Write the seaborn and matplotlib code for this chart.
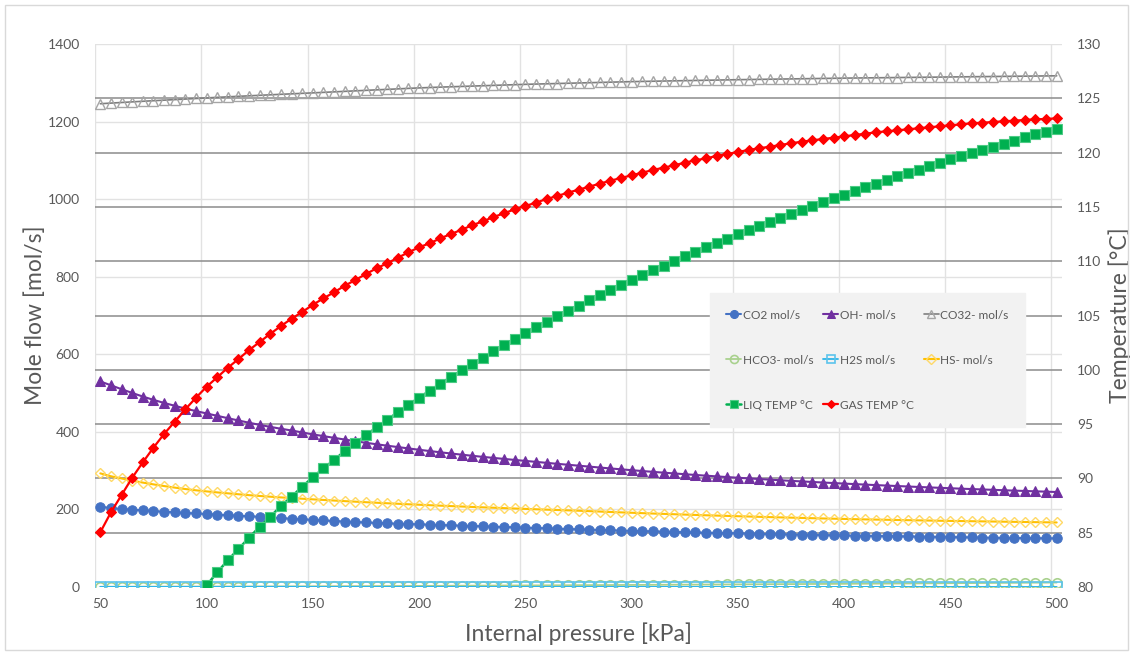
import numpy as np
import pandas as pd
import matplotlib
matplotlib.use("Agg")
import matplotlib.pyplot as plt
import seaborn as sns
from matplotlib.ticker import FixedLocator
from matplotlib.patches import Rectangle

# Internal pressure sweep [kPa]
pressure_kpa = list(range(50, 505, 5))

# Mole flows [mol/s]
co2 = [207.0, 203.7, 201.0, 199.3, 197.7, 196.0, 194.0, 192.6, 190.8, 189.6,
       188.2, 186.6, 185.3, 183.8, 182.4, 181.1, 179.6, 177.6, 176.0, 174.6,
       173.0, 171.5, 170.2, 168.8, 167.6, 166.3, 165.2, 164.2, 163.2, 162.4,
       161.6, 160.7, 159.8, 159.0, 158.1, 157.3, 156.5, 155.6, 154.7, 153.9,
       153.0, 152.1, 151.3, 150.4, 149.5, 148.7, 147.9, 147.1, 146.3, 145.5,
       144.8, 144.1, 143.4, 142.7, 142.0, 141.3, 140.6, 140.0, 139.4, 138.8,
       138.2, 137.6, 137.0, 136.4, 135.8, 135.3, 134.8, 134.3, 133.8, 133.3,
       132.8, 132.3, 131.9, 131.5, 131.1, 130.7, 130.3, 129.9, 129.5, 129.1,
       128.7, 128.3, 127.9, 127.5, 127.1, 126.7, 126.4, 126.1, 125.8, 125.5, 125.2]

oh = [530.0, 520.0, 510.0, 500.3, 491.0, 482.5, 474.5, 467.3, 460.0, 453.5,
      447.5, 441.3, 435.3, 429.3, 423.5, 418.0, 412.8, 408.0, 403.5, 398.5,
      393.5, 389.0, 384.5, 380.2, 375.8, 371.8, 368.0, 364.3, 360.8, 357.3,
      353.8, 350.5, 347.3, 344.2, 341.2, 338.3, 335.5, 332.8, 330.2, 327.6,
      325.1, 322.6, 320.1, 317.6, 315.2, 312.8, 310.4, 308.0, 305.7, 303.4,
      301.2, 299.0, 296.9, 294.8, 292.8, 290.8, 288.9, 287.0, 285.2, 283.4,
      281.7, 280.0, 278.4, 276.8, 275.2, 273.7, 272.2, 270.8, 269.4, 268.0,
      266.6, 265.3, 264.0, 262.7, 261.5, 260.3, 259.1, 257.9, 256.8, 255.7,
      254.6, 253.5, 252.5, 251.5, 250.5, 249.5, 248.5, 247.6, 246.7, 245.8, 244.9]

co32 = [1246.0, 1247.6, 1249.2, 1250.8, 1252.3, 1253.8, 1255.2, 1256.6, 1258.0, 1259.5,
        1261.0, 1262.4, 1263.8, 1265.1, 1266.4, 1267.7, 1269.0, 1270.3, 1271.5, 1272.8,
        1274.0, 1275.3, 1276.6, 1277.9, 1279.2, 1280.5, 1281.8, 1283.0, 1284.3, 1285.6,
        1286.8, 1287.8, 1288.8, 1289.7, 1290.6, 1291.5, 1292.4, 1293.3, 1294.2, 1295.1,
        1296.0, 1296.7, 1297.4, 1298.1, 1298.8, 1299.5, 1300.2, 1300.9, 1301.6, 1302.3,
        1303.0, 1303.5, 1304.0, 1304.5, 1305.0, 1305.5, 1306.0, 1306.5, 1307.0, 1307.5,
        1308.0, 1308.4, 1308.8, 1309.2, 1309.6, 1310.0, 1310.4, 1310.8, 1311.2, 1311.6,
        1312.0, 1312.3, 1312.6, 1312.9, 1313.2, 1313.5, 1313.8, 1314.1, 1314.4, 1314.7,
        1315.0, 1315.3, 1315.6, 1315.9, 1316.2, 1316.5, 1316.8, 1317.1, 1317.4, 1317.7, 1318.0]

hco3 = [0.5, 0.6, 0.6, 0.7, 0.7, 0.8, 0.8, 0.9, 0.9, 1.0,
        1.0, 1.1, 1.2, 1.2, 1.3, 1.4, 1.5, 1.6, 1.6, 1.7,
        1.8, 1.9, 2.0, 2.1, 2.2, 2.3, 2.4, 2.5, 2.6, 2.7,
        2.8, 2.9, 3.0, 3.2, 3.3, 3.4, 3.5, 3.6, 3.8, 3.9,
        4.0, 4.1, 4.3, 4.4, 4.5, 4.7, 4.8, 4.9, 5.0, 5.2,
        5.3, 5.4, 5.6, 5.7, 5.9, 6.0, 6.1, 6.3, 6.4, 6.6,
        6.7, 6.9, 7.0, 7.2, 7.3, 7.5, 7.6, 7.8, 7.9, 8.1,
        8.2, 8.4, 8.5, 8.7, 8.8, 9.0, 9.2, 9.3, 9.5, 9.6,
        9.8, 10.0, 10.1, 10.3, 10.5, 10.7, 10.8, 11.0, 11.2, 11.3, 11.5]

h2s = [0.4, 0.4, 0.4, 0.4, 0.4, 0.4, 0.4, 0.4, 0.4, 0.4,
       0.4, 0.4, 0.4, 0.4, 0.4, 0.4, 0.4, 0.4, 0.4, 0.4,
       0.3, 0.3, 0.3, 0.3, 0.3, 0.3, 0.3, 0.3, 0.3, 0.3,
       0.3, 0.3, 0.3, 0.3, 0.3, 0.3, 0.3, 0.3, 0.3, 0.3,
       0.3, 0.3, 0.3, 0.3, 0.3, 0.3, 0.3, 0.3, 0.3, 0.3,
       0.3, 0.3, 0.3, 0.3, 0.3, 0.2, 0.2, 0.2, 0.2, 0.2,
       0.2, 0.2, 0.2, 0.2, 0.2, 0.2, 0.2, 0.2, 0.2, 0.2,
       0.2, 0.2, 0.2, 0.2, 0.2, 0.2, 0.2, 0.2, 0.2, 0.2,
       0.2, 0.2, 0.2, 0.2, 0.2, 0.2, 0.2, 0.2, 0.2, 0.2, 0.2]

hs = [293.0, 285.5, 279.8, 274.2, 269.2, 264.6, 260.3, 256.3, 252.6, 249.3,
      246.5, 243.9, 241.5, 239.1, 236.8, 234.7, 232.8, 231.0, 229.3, 227.6,
      226.0, 224.4, 222.9, 221.4, 220.0, 218.6, 217.2, 215.9, 214.6, 213.3,
      212.1, 210.9, 209.7, 208.6, 207.5, 206.4, 205.4, 204.4, 203.4, 202.4,
      201.4, 200.4, 199.4, 198.5, 197.6, 196.7, 195.6, 194.5, 193.4, 192.4,
      191.4, 190.4, 189.4, 188.5, 187.6, 186.7, 185.8, 184.9, 184.1, 183.3,
      182.5, 181.7, 180.9, 180.2, 179.5, 178.8, 178.1, 177.4, 176.7, 176.1,
      175.5, 174.9, 174.3, 173.8, 173.3, 172.8, 172.3, 171.8, 171.3, 170.8,
      170.4, 170.0, 169.6, 169.2, 168.8, 168.4, 168.0, 167.6, 167.2, 166.8, 166.4]

# Temperatures [°C]
liq_temp = [np.nan, np.nan, np.nan, np.nan, np.nan, np.nan, np.nan, np.nan, np.nan, np.nan,
            80.14, 81.35, 82.46, 83.50, 84.54, 85.55, 86.47, 87.46, 88.31, 89.24,
            90.10, 90.93, 91.69, 92.52, 93.23, 93.97, 94.71, 95.38, 96.11, 96.79,
            97.43, 98.08, 98.72, 99.34, 99.95, 100.53, 101.11, 101.70, 102.26, 102.84,
            103.42, 103.91, 104.43, 104.93, 105.41, 105.90, 106.40, 106.89, 107.35, 107.83,
            108.27, 108.73, 109.16, 109.59, 110.02, 110.45, 110.85, 111.28, 111.70, 112.07,
            112.48, 112.85, 113.21, 113.61, 113.98, 114.35, 114.71, 115.08, 115.42, 115.79,
            116.12, 116.46, 116.83, 117.14, 117.48, 117.82, 118.09, 118.42, 118.74, 119.04,
            119.38, 119.69, 119.96, 120.24, 120.54, 120.82, 121.10, 121.41, 121.69, 121.90, 122.17]

gas_temp = [85.04, 86.88, 88.47, 90.06, 91.48, 92.83, 94.09, 95.22, 96.36, 97.43,
            98.44, 99.31, 100.19, 100.99, 101.82, 102.56, 103.32, 104.03, 104.71, 105.32,
            105.99, 106.58, 107.14, 107.74, 108.27, 108.82, 109.35, 109.81, 110.32, 110.82,
            111.28, 111.65, 112.11, 112.50, 112.90, 113.31, 113.67, 114.07, 114.41, 114.78,
            115.08, 115.39, 115.73, 116.00, 116.31, 116.58, 116.86, 117.14, 117.41, 117.66,
            117.91, 118.15, 118.40, 118.61, 118.83, 119.07, 119.29, 119.47, 119.69, 119.87,
            120.06, 120.24, 120.40, 120.54, 120.70, 120.86, 121.00, 121.13, 121.25, 121.37,
            121.50, 121.62, 121.74, 121.87, 121.96, 122.05, 122.14, 122.24, 122.33, 122.42,
            122.51, 122.60, 122.70, 122.75, 122.82, 122.88, 122.94, 123.00, 123.07, 123.09, 123.16]

left_ticks = list(range(0, 1401, 200))
right_ticks = list(range(80, 131, 5))
x_ticks = list(range(50, 501, 50))

df = pd.DataFrame({
    "pressure": pressure_kpa, "CO2": co2, "OH": oh, "CO32": co32, "HCO3": hco3,
    "H2S": h2s, "HS": hs, "LIQ": liq_temp, "GAS": gas_temp,
})

sns.set_theme(style="white")
plt.rcParams["font.family"] = ["Lato", "DejaVu Sans"]
TXT = "#595959"

fig = plt.figure(figsize=(11.34, 6.55), dpi=100)
ax = fig.add_axes([95 / 1134, 1 - 587 / 655, 967 / 1134, 543 / 655])
ax2 = ax.twinx()
ax2.patch.set_visible(False)

# series on the mole-flow axis
flow_series = [
    ("HCO3", "HCO3- mol/s", dict(color="#A9D18E", marker="o", markerfacecolor="none",
                                 markeredgecolor="#A9D18E", markersize=6.8, markeredgewidth=1.2, linewidth=1.3)),
    ("H2S", "H2S mol/s", dict(color="#2EB4E8", marker="s", markerfacecolor="none",
                              markeredgecolor="#5BC4EC", markersize=6.5, markeredgewidth=1.2, linewidth=1.3)),
    ("CO2", "CO2 mol/s", dict(color="#4472C4", marker="o", markerfacecolor="#4472C4",
                              markeredgecolor="#4472C4", markersize=6.8, linewidth=1.5)),
    ("HS", "HS- mol/s", dict(color="#FFC000", marker="D", markerfacecolor="none",
                             markeredgecolor="#FFD966", markersize=5.5, markeredgewidth=1.0, linewidth=1.5)),
    ("OH", "OH- mol/s", dict(color="#7030A0", marker="^", markerfacecolor="#7030A0",
                             markeredgecolor="#7030A0", markersize=7.0, linewidth=1.5)),
    ("CO32", "CO32- mol/s", dict(color="#7F7F7F", marker="^", markerfacecolor="none",
                                 markeredgecolor="#A5A5A5", markersize=7.0, markeredgewidth=1.0, linewidth=1.2)),
]
temp_series = [
    ("LIQ", "LIQ TEMP °C", dict(color="#00B050", marker="s", markerfacecolor="#00B050",
                                markeredgecolor="#4CCB85", markersize=6.5, markeredgewidth=0.8, linewidth=1.8)),
    ("GAS", "GAS TEMP °C", dict(color="#FF0000", marker="D", markerfacecolor="#FF0000",
                                markeredgecolor="#FF0000", markersize=5.2, linewidth=1.6)),
]

handles = {}
for col, label, kw in flow_series:
    sns.lineplot(data=df, x="pressure", y=col, ax=ax, label=label, legend=False,
                 errorbar=None, **kw)
    handles[label] = ax.get_lines()[-1]
for col, label, kw in temp_series:
    sns.lineplot(data=df, x="pressure", y=col, ax=ax2, label=label, legend=False,
                 errorbar=None, **kw)
    handles[label] = ax2.get_lines()[-1]

# axes ranges and ticks
ax.set_xlim(47.5, 502.5)
ax.set_ylim(0, 1400)
ax2.set_ylim(80, 130)
ax.set_xticks(x_ticks)
ax.set_yticks(left_ticks)
ax2.set_yticks(right_ticks)

# gridlines: light for mole-flow axis and category boundaries, darker for temperature axis
ax.xaxis.set_minor_locator(FixedLocator(list(np.arange(47.5, 503, 50))))
temp_grid = [(t - 80) / 50 * 1400 for t in right_ticks[1:-1]]
ax.yaxis.set_minor_locator(FixedLocator(temp_grid))
ax.xaxis.grid(True, which="minor", color="#E2E2E2", linewidth=1.0)
ax.xaxis.grid(False, which="major")
ax.yaxis.grid(True, which="major", color="#E2E2E2", linewidth=1.0)
ax.yaxis.grid(True, which="minor", color="#8C8C8C", linewidth=1.1)
ax.set_axisbelow(True)
ax2.grid(False)

for a in (ax, ax2):
    for s in a.spines.values():
        s.set_visible(False)
    a.tick_params(axis="both", which="both", length=0, labelsize=10, labelcolor=TXT)
ax.tick_params(axis="y", pad=11)
ax.tick_params(axis="x", pad=8)
ax2.tick_params(axis="y", pad=11)

ax.set_xlabel("Internal pressure [kPa]", fontsize=16.5, color=TXT, labelpad=9)
ax.set_ylabel("Mole flow [mol/s]", fontsize=16.5, color=TXT, labelpad=1)
ax2.set_ylabel("Temperature [°C]", fontsize=16.5, color=TXT, labelpad=5)

order = ["CO2 mol/s", "HCO3- mol/s", "LIQ TEMP °C",
         "OH- mol/s", "H2S mol/s", "GAS TEMP °C",
         "CO32- mol/s", "HS- mol/s"]
leg = ax2.legend([handles[k] for k in order], order, ncol=3, loc="upper left",
                 bbox_to_anchor=(0.636, 0.5414), borderaxespad=0, frameon=True,
                 fancybox=False, facecolor="#F2F2F2", edgecolor="#F2F2F2", framealpha=1,
                 fontsize=8.6, labelcolor=TXT, labelspacing=2.85, handlelength=1.25,
                 handletextpad=0.1, columnspacing=0.85, borderpad=1.38, markerscale=0.85)
leg.set_zorder(10)

fig.add_artist(Rectangle((5 / 1134, 5 / 655), 1123 / 1134, 645 / 655, transform=fig.transFigure,
                         fill=False, edgecolor="#D9D9D9", linewidth=1.0))

fig.savefig("out.png", dpi=100)
